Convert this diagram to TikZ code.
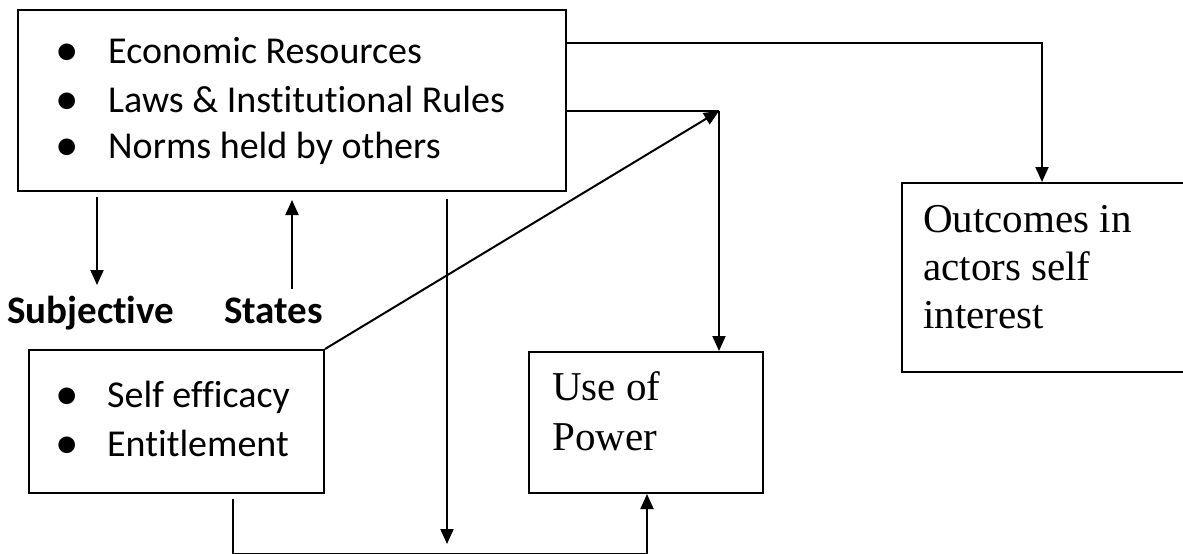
\documentclass[tikz,border=0pt]{standalone}
\usepackage{fontspec}
\setmainfont{Liberation Serif}
\newfontfamily\calfont[Ligatures=CommonOff]{Carlito}
\usetikzlibrary{arrows.meta}
\begin{document}
\begin{tikzpicture}[x=1pt,y=-1pt,
  box/.style={draw, line width=2pt, inner sep=0pt, anchor=north west},
  conn/.style={line width=2pt},
  arr/.style={conn, -{Triangle[length=15pt,width=13pt]}},
  sans/.style={font=\calfont\fontsize{38}{47}\selectfont, anchor=base west, inner sep=0pt},
  bul/.style={font=\calfont\fontsize{47}{47}\selectfont, anchor=base, inner sep=0pt, text height=20pt, text depth=0pt},
  serif/.style={font=\fontsize{41}{48}\selectfont, anchor=base west, inner sep=0pt},
  lbl/.style={font=\calfont\bfseries\fontsize{39}{46}\selectfont, anchor=base west, inner sep=0pt}]
\clip (0,0) rectangle (1183,554);
% boxes
\node[box, minimum width=548pt, minimum height=181pt] (res) at (17,9) {};
\node[box, minimum width=295pt, minimum height=143pt] (se) at (28,349) {};
\node[box, minimum width=234pt, minimum height=141pt] (pow) at (528,351) {};
\node[box, minimum width=300pt, minimum height=189pt] (out) at (901,182) {};
% texts of the resources box
\node[bul] (rb1) at (67,65) {•};
\node[bul] (rb2) at (67,114) {•};
\node[bul] (rb3) at (67,160) {•};
\node[sans] (rt1) at (108,63) {Economic Resources};
\node[sans] (rt2) at (108,112) {Laws \& Institutional Rules};
\node[sans] (rt3) at (108,158) {Norms held by others};
% subjective states
\node[lbl] (subj) at (7,323) {Subjective};
\node[lbl] (stat) at (224,323) {States};
\node[bul] (sb1) at (67,409) {•};
\node[bul] (sb2) at (67,458) {•};
\node[sans] (st1) at (107,407) {Self efficacy};
\node[sans] (st2) at (107,456) {Entitlement};
% use of power
\node[serif] (pt1) at (552,400) {Use of};
\node[serif] (pt2) at (552,450) {Power};
% outcomes
\node[serif] (ot1) at (923,232) {Outcomes in};
\node[serif] (ot2) at (923,280) {actors self};
\node[serif] (ot3) at (923,328) {interest};
% connectors
\coordinate (j) at (719,111);
\draw[arr] ([yshift=-34pt]res.north east) -| ([xshift=141pt]out.north west);
\draw[conn] ([yshift=-102pt]res.north east) -- (j);
\draw[arr] (se.north east) -- (j);
\draw[arr] (j) -- (j |- pow.north);
\draw[arr] ([xshift=80pt,yshift=-5pt]res.south west) -- ++(0,88);
\draw[arr] ([xshift=275pt,yshift=-97pt]res.south west) -- ++(0,-89);
\draw[arr] ([xshift=430pt,yshift=-7pt]res.south west) -- ++(0,345);
\draw[arr] ([xshift=205pt,yshift=-5pt]se.south west) -- ++(0,55) -| ([xshift=119pt]pow.south west);
\end{tikzpicture}
\end{document}
